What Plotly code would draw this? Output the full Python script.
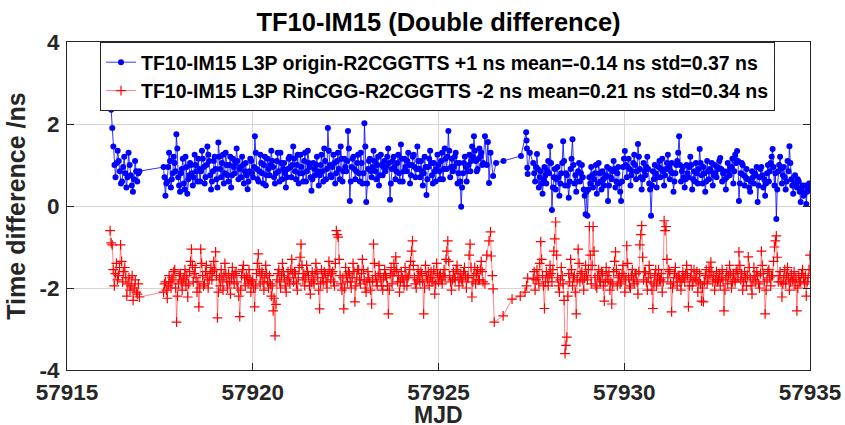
import numpy as np
import plotly.graph_objects as go

# ---- time spans of the regularly sampled segments (MJD) ----
seg_a_span = [57916.16, 57916.95]
seg_b_span = [57917.60, 57926.20]
seg_d_span = [57927.55, 57935.00]

# ---- blue: origin-R2CGGTTS +1 ns ----
blue_a = [2.60, 2.35, 1.90, 1.45, 1.00, 0.70, 1.05, 1.35, 1.10, 0.85, 0.55, 0.60, 0.95, 1.20, 0.80,
          0.45, 0.70, 1.30, 1.00, 0.75, 0.50, 0.35, 0.65, 1.10, 0.85, 0.60, 0.80, 0.85]
blue_b = [
    0.95, 0.70, 0.25, 0.55, 0.60, 0.95, 1.30, 1.10, 0.45, 0.65, 0.80, 1.20, 1.05, 0.85, 1.75, 1.40, 0.70, 0.50, 0.35, 0.80,
    0.90, 1.15, 0.55, 0.40, 1.20, 0.95, 0.30, 0.65, 0.75, 1.05, 1.00, 0.80, 0.50, 0.70, 1.25, 1.00, 0.85, 0.60, 1.15, 0.90,
    0.60, 0.85, 1.35, 1.15, 0.95, 0.55, 0.70, 1.00, 1.45, 1.25, 1.10, 0.75, 0.40, 0.60, 0.85, 1.10, 1.20, 0.90, 0.65, 0.45,
    1.55, 1.20, 0.90, 0.70, 1.05, 1.25, 0.55, 0.80, 1.30, 1.00, 0.75, 0.60, 1.00, 1.20, 0.45, 0.75, 1.15, 0.95, 0.80, 1.05,
    1.40, 1.10, 0.65, 0.90, 0.95, 0.70, 1.20, 1.00, 0.55, 0.85, 1.05, 0.75, 0.41, 0.60, 0.85, 1.15, 1.10, 0.80, 0.70, 0.95,
    1.70, 1.30, 0.90, 0.65, 0.60, 0.85, 1.25, 1.05, 0.80, 0.55, 1.00, 1.20, 0.50, 0.75, 1.15, 0.90, 0.75, 1.00, 1.35, 1.10,
    0.95, 0.70, 0.55, 0.80, 1.10, 1.30, 0.85, 0.60, 1.30, 1.05, 0.65, 0.90, 1.05, 0.80, 0.45, 0.70, 0.90, 1.15, 1.20, 0.95,
    0.70, 1.00, 1.45, 1.15, 0.85, 0.65, 1.00, 1.25, 0.55, 0.80, 1.25, 0.95, 0.80, 0.60, 1.10, 1.30, 0.60, 0.85, 1.35, 1.05,
    0.95, 0.70, 0.37, 0.65, 1.05, 0.90, 0.75, 1.00, 1.20, 0.85, 0.50, 0.75, 1.00, 1.25, 0.85, 0.60, 1.40, 1.10, 0.65, 0.90,
    1.90, 1.35, 1.00, 0.75, 0.70, 0.95, 1.25, 1.05, 0.55, 0.80, 1.10, 1.30, 0.90, 0.65, 1.45, 1.15, 0.60, 0.85, 1.15, 0.95,
    0.85, 1.10, 1.83, 1.40, 0.12, 0.60, 0.95, 1.15, 1.20, 0.90, 0.65, 0.85, 1.05, 1.25, 0.80, 0.60, 1.30, 1.05, 0.55, 0.80,
    2.02, 1.45, 0.10, 0.55, 0.90, 1.10, 1.15, 0.85, 0.70, 0.95, 1.35, 1.10, 0.85, 0.65, 1.00, 1.20, 0.50, 0.75, 1.25, 1.00,
    0.75, 0.95, 1.10, 0.85, 0.95, 1.20, 1.40, 1.05, 0.15, 0.55, 0.90, 1.10, 1.20, 0.95, 0.65, 0.85, 1.05, 1.25, 0.80, 0.60,
    1.50, 1.15, 0.60, 0.85, 1.15, 0.95, 0.85, 1.10, 1.30, 1.00, 0.55, 0.75, 1.00, 1.20, 1.25, 0.95, 0.70, 0.90, 1.45, 1.10,
    0.90, 0.70, 1.10, 0.85, 0.50, 0.80, 1.20, 0.95, 0.27, 0.65, 0.95, 1.15, 1.35, 1.05, 0.75, 0.55, 1.05, 0.85, 0.60, 0.90,
    1.25, 1.00, 0.85, 0.65, 1.10, 1.30, 0.65, 0.90, 1.40, 1.15, 0.90, 1.20, 1.83, 1.35, 0.70, 0.95, 1.15, 0.85, 0.95, 1.20,
    1.30, 1.05, 0.55, 0.80, 1.05, 0.60, -0.02, 0.45, 0.80, 1.05, 1.20, 0.95, 0.60, 0.85, 1.00, 1.25, 0.85, 1.10, 1.45, 1.20,
    1.70, 1.35, 1.10, 0.85, 0.90, 1.15, 1.40, 1.20, 1.30, 1.00, 1.05,
]
blue_c_mjd = [57926.25, 57926.30, 57926.33, 57926.36, 57926.40, 57926.47, 57926.55, 57926.75,
              57927.22, 57927.36, 57927.37, 57927.38, 57927.39, 57927.40, 57927.46]
blue_c = [1.70, 1.00, 1.56, 0.56, 1.30, 0.73, 1.05, 1.10, 1.22, 1.80, 1.60, 1.40, 0.93, 0.78, 1.30]
blue_d = [
    1.05, 0.80, 0.60, 0.95, 1.27, 0.90, 0.45, 0.70, 0.85, 0.55, 0.30, 0.65, 0.95, 0.75, 0.55, 0.85, 1.10, 0.80, 1.46, 1.05,
    -0.10, 0.45, 0.70, 0.90, 0.40, 0.65, 0.95, 0.70, 0.25, 0.55, 0.80, 1.05, 1.58, 1.10, 0.50, 0.80, 0.75, 0.50, 0.20, 0.60,
    0.90, 1.15, 1.63, 1.00, 0.55, 0.75, 0.35, 0.60, 0.85, 1.05, 0.60, 0.80, 1.00, 0.70, 0.40, 0.25, -0.20, 0.35, -0.24, 0.40,
    0.70, 0.55, 0.95, 0.75, 0.45, 0.65, 0.80, 1.00, 0.30, 0.55, 1.05, 0.80, 0.60, 0.40, 0.85, 0.65, 0.50, 0.70, 0.75, 0.95,
    0.12, 0.50, 0.90, 0.70, 0.65, 0.85, 1.10, 0.90, 0.45, 0.60, 0.80, 0.95, 0.55, 0.35, 0.12, 0.60, 0.95, 1.15, 1.34, 1.00,
    0.70, 0.95, 1.15, 0.90, 0.50, 0.75, 0.85, 1.05, 1.25, 1.00, 0.65, 0.85, 1.51, 1.20, 0.90, 0.70, 0.40, 0.65, 1.05, 0.85,
    0.75, 0.95, 1.20, 0.90, 0.55, 0.40, -0.24, 0.50, 0.85, 0.65, 1.00, 0.80, 0.45, 0.70, 0.95, 1.10, 0.70, 0.90, 1.15, 0.85,
    0.50, 0.75, 0.90, 1.05, 1.25, 0.95, 0.65, 0.85, 1.05, 0.80, 0.35, 0.60, 0.80, 1.00, 1.10, 1.30, 1.70, 1.00, 0.60, 0.85,
    0.95, 0.70, 0.45, 0.65, 1.00, 0.80, 0.70, 0.95, 1.20, 1.00, 0.40, 0.65, 0.85, 0.60, 1.05, 0.80, 0.55, 0.90, 1.39, 1.05,
    0.75, 0.55, 0.95, 0.80, 0.35, 0.60, 1.10, 0.85, 0.65, 0.90, 0.85, 1.05, 0.50, 0.75, 1.00, 0.80, 0.70, 0.95, 0.90, 1.10,
    1.17, 0.90, 0.60, 0.80, 0.85, 0.65, 0.40, 0.70, 1.05, 0.85, 0.75, 0.95, 0.95, 1.15, 0.55, 0.85, 1.25, 1.05, 1.34, 1.10,
    0.12, 0.55, 0.80, 1.05, 1.00, 0.75, 0.50, 0.70, 0.90, 0.65, 0.65, 0.45, 0.35, 0.60, 0.85, 0.70, 0.55, 0.80, 0.75, 0.95,
    0.10, 0.50, 0.70, 0.90, 0.95, 0.75, 0.45, 0.65, 0.25, 0.55, 0.80, 1.00, 0.60, 0.85, 1.05, 1.20, 1.39, 0.95, 0.50, 0.80,
    -0.32, 0.40, 0.85, 1.00, 1.20, 0.90, 0.55, 0.75, 0.95, 0.70, 0.40, 0.60, 1.10, 0.85, 1.46, 1.05, 0.65, 0.50, 0.30, 0.55,
    0.75, 0.55, 0.45, 0.65, 0.60, 0.35, 0.10, 0.40, 0.50, 0.25, 0.30, 0.50, 0.05, 0.35, 0.40, 0.55, 0.46,
]

# ---- red: RinCGG-R2CGGTTS -2 ns ----
red_a = [-0.60, -0.90, -0.95, -1.55, -1.95, -1.65, -1.40, -1.80, -1.70, -1.50, -0.95, -1.35, -1.85, -1.60, -1.50,
         -1.75, -2.20, -1.90, -1.75, -2.05, -1.95, -1.70, -2.30, -2.00, -1.80, -2.10, -2.15, -1.90, -2.22]
red_b = [
    -2.10, -1.90, -1.85, -2.05, -2.25, -1.95, -1.70, -1.85, -2.00, -1.75, -1.80, -1.60, -1.55, -2.00, -2.83, -2.20, -1.90, -1.70, -1.65, -1.85,
    -2.05, -1.80, -1.75, -1.55, -1.95, -1.70, -2.22, -1.90, -1.60, -1.35, -1.05, -1.45, -1.85, -1.65, -1.50, -1.75, -2.10, -1.85, -2.46, -2.00,
    -1.05, -1.40, -1.70, -1.95, -1.90, -1.60, -1.45, -1.75, -2.00, -1.80, -1.65, -1.50, -1.80, -1.60, -1.35, -1.55, -1.12, -1.70, -2.73, -2.10,
    -1.75, -1.95, -1.55, -1.80, -2.05, -1.70, -1.40, -1.65, -1.85, -2.00, -1.65, -1.85, -2.15, -1.75, -1.50, -1.70, -1.90, -1.65, -1.60, -1.85,
    -2.00, -2.20, -2.70, -2.05, -1.70, -1.55, -1.45, -1.75, -1.95, -1.70, -1.75, -1.90, -1.55, -1.80, -2.10, -1.85, -1.80, -2.00, -2.46, -1.95,
    -1.65, -1.40, -1.17, -1.55, -1.90, -1.70, -1.60, -1.85, -2.05, -1.75, -1.45, -1.65, -1.85, -2.00, -1.70, -1.90, -2.20, -1.95, -2.56, -2.25,
    -3.17, -2.40, -1.80, -1.65, -1.55, -1.85, -2.00, -1.70, -1.40, -1.60, -1.75, -1.95, -2.10, -1.80, -1.60, -1.75, -1.90, -1.55, -1.30, -1.65,
    -1.85, -1.60, -1.65, -1.90, -2.05, -1.75, -1.50, -1.25, -0.93, -1.45, -1.80, -1.65, -1.95, -1.75, -1.45, -1.60, -1.70, -1.95, -2.15, -1.85,
    -1.60, -1.80, -1.90, -1.65, -1.40, -1.60, -1.75, -2.05, -2.51, -1.90, -1.55, -1.75, -1.85, -1.60, -1.65, -1.85, -2.00, -1.70, -1.35, -1.55,
    -1.80, -1.65, -1.60, -1.85, -1.95, -1.40, -0.60, -0.70, -0.76, -1.30, -1.70, -1.90, -2.05, -1.75, -2.51, -2.00, -1.50, -1.70, -1.85, -1.60,
    -1.65, -1.85, -2.00, -1.75, -1.40, -1.60, -2.34, -1.95, -1.75, -1.55, -1.55, -1.80, -1.90, -1.65, -1.30, -1.55, -1.80, -2.00, -2.10, -1.85,
    -1.60, -1.75, -1.85, -2.05, -2.39, -1.80, -0.93, -1.40, -1.70, -1.85, -1.95, -1.70, -1.45, -1.65, -1.80, -1.95, -2.05, -1.75, -1.55, -1.70,
    -1.75, -1.95, -2.63, -2.05, -1.65, -1.50, -1.90, -1.70, -1.40, -1.60, -1.24, -1.55, -1.85, -1.70, -2.10, -1.85, -1.60, -1.75, -1.80, -1.95,
    -1.50, -1.70, -1.95, -1.75, -1.70, -1.55, -1.35, -1.10, -0.85, -1.45, -1.75, -1.90, -2.00, -1.80, -1.55, -1.70, -1.85, -1.60, -1.65, -1.85,
    -2.63, -2.00, -1.45, -1.70, -1.80, -1.60, -1.95, -1.75, -1.60, -1.85, -1.75, -1.55, -2.15, -1.90, -1.40, -1.65, -1.85, -1.70, -1.65, -1.80,
    -1.90, -1.70, -1.55, -1.75, -1.30, -1.10, -0.85, -1.35, -1.70, -1.85, -2.05, -1.80, -1.60, -1.75, -1.80, -1.55, -1.45, -1.65, -1.95, -1.75,
    -1.65, -1.80, -1.85, -1.60, -1.50, -1.70, -2.00, -1.75, -1.75, -1.20, -0.93, -1.50, -2.22, -1.85, -1.70, -1.50, -1.90, -1.65, -1.55, -1.80,
    -1.80, -1.55, -1.35, -1.60, -1.85,
]
red_c_mjd = [57926.25, 57926.30, 57926.36, 57926.40, 57926.42, 57926.45, 57926.47, 57926.50,
             57926.74, 57926.98, 57927.20, 57927.33, 57927.37, 57927.40]
red_c = [-1.90, -1.20, -0.85, -0.63, -1.22, -1.70, -2.02, -2.83, -2.68, -2.27, -2.20, -2.10, -1.95, -1.76]
red_d = [
    -1.78, -1.60, -2.05, -1.80, -1.55, -1.75, -1.90, -1.40, -0.87, -1.30, -1.70, -1.95, -2.50, -1.85, -1.60, -1.75, -1.95, -1.70, -1.45, -1.65,
    -1.85, -1.55, -1.10, -0.80, -0.39, -1.20, -1.75, -1.95, -2.10, -1.80, -1.50, -1.70, -1.90, -2.30, -3.60, -3.40, -3.20, -2.20, -1.65, -1.85,
    -1.30, -1.55, -1.95, -1.75, -1.70, -2.10, -2.63, -1.80, -1.05, -1.40, -1.85, -1.65, -1.60, -1.80, -2.05, -1.75, -1.45, -1.70, -1.80, -1.55,
    -0.50, -1.20, -1.90, -1.45, -0.50, -1.10, -1.75, -1.95, -2.00, -1.70, -1.55, -1.80, -1.85, -1.60, -1.65, -1.95, -2.32, -1.85, -1.50, -1.70,
    -1.80, -1.60, -2.05, -1.85, -2.39, -1.90, -1.60, -1.35, -1.12, -1.55, -1.95, -1.75, -1.70, -1.90, -1.85, -1.65, -1.45, -1.70, -2.10, -1.80,
    -0.97, -1.40, -1.75, -1.95, -2.00, -1.70, -1.55, -1.80, -1.90, -1.65, -1.65, -1.85, -2.15, -1.60, -0.95, -0.70, -0.48, -1.25, -1.80, -1.60,
    -1.60, -1.85, -2.05, -1.75, -1.45, -1.65, -1.85, -2.05, -2.50, -1.90, -1.70, -1.55, -1.95, -1.75, -1.55, -1.80, -1.80, -1.65, -2.10, -1.85,
    -0.36, -0.60, -0.50, -1.30, -1.75, -1.55, -1.60, -1.90, -2.58, -2.00, -1.85, -1.65, -1.50, -1.75, -1.95, -1.70, -1.70, -1.85, -2.05, -1.80,
    -1.60, -1.75, -1.85, -1.65, -1.45, -1.70, -2.46, -1.95, -1.75, -1.55, -1.95, -1.80, -1.55, -1.75, -1.80, -1.60, -2.10, -1.85, -1.65, -1.90,
    -2.32, -2.00, -2.34, -1.85, -1.70, -1.55, -1.90, -1.75, -1.50, -1.70, -1.37, -1.60, -1.85, -1.70, -2.05, -1.80, -1.60, -1.85, -1.80, -1.65,
    -1.95, -1.75, -1.55, -1.80, -2.56, -2.05, -1.75, -1.60, -1.90, -1.70, -1.45, -1.65, -2.00, -1.85, -1.65, -1.80, -1.85, -1.60, -1.55, -1.75,
    -1.12, -1.45, -1.80, -1.65, -2.05, -1.85, -1.60, -1.75, -1.95, -1.70, -1.24, -1.50, -1.75, -1.95, -2.15, -1.80, -1.50, -1.70, -1.85, -1.60,
    -1.70, -1.90, -2.00, -1.65, -1.10, -1.45, -1.65, -1.85, -2.63, -2.05, -1.80, -1.60, -1.55, -1.75, -1.95, -1.70, -1.70, -1.35, -1.00, -0.85,
    -0.73, -1.25, -1.85, -1.70, -1.60, -1.85, -2.22, -1.90, -1.75, -1.55, -1.90, -1.70, -1.50, -1.75, -2.05, -1.85, -1.65, -1.80, -1.80, -1.60,
    -1.95, -1.75, -2.56, -2.00, -1.70, -1.85, -1.85, -1.65, -1.55, -1.75, -1.90, -1.70, -2.20, -1.85, -1.75, -1.55, -1.20,
]

x_ticks = [57915, 57920, 57925, 57930, 57935]
y_ticks = [-4, -2, 0, 2, 4]
y_tick_text = ["-4", "-2", "0", "2", "4"]

name_blue = "TF10-IM15 L3P origin-R2CGGTTS +1 ns mean=-0.14 ns std=0.37 ns"
name_red = "TF10-IM15 L3P RinCGG-R2CGGTTS -2 ns mean=0.21 ns std=0.34 ns"


def build(a, b, c_x, c_y, d):
    x = np.concatenate([
        np.linspace(seg_a_span[0], seg_a_span[1], len(a)),
        np.linspace(seg_b_span[0], seg_b_span[1], len(b)),
        np.array(c_x),
        np.linspace(seg_d_span[0], seg_d_span[1], len(d)),
    ])
    y = np.concatenate([a, b, c_y, d])
    return x, y


bx, by = build(blue_a, blue_b, blue_c_mjd, blue_c, blue_d)
rx, ry = build(red_a, red_b, red_c_mjd, red_c, red_d)

FONT = "Liberation Sans, Arial, Helvetica, sans-serif"

fig = go.Figure()
fig.add_trace(go.Scatter(
    x=bx, y=by, mode="lines+markers", name=name_blue,
    line=dict(color="#0000ff", width=0.8),
    marker=dict(symbol="circle", size=6, color="#0000ff"),
))
fig.add_trace(go.Scatter(
    x=rx, y=ry, mode="lines+markers", name=name_red,
    line=dict(color="rgba(255,0,0,0.6)", width=0.8),
    marker=dict(symbol="cross-thin", size=7, color="#ff0000",
                line=dict(color="#ff0000", width=1.2)),
))

axis_common = dict(
    showline=True, linecolor="#262626", linewidth=1, mirror="ticks",
    ticks="inside", ticklen=7, tickwidth=1, tickcolor="#262626",
    showgrid=True, gridcolor="#d6d6d6", gridwidth=1, zeroline=False,
    tickfont=dict(family=FONT, size=22.5, color="#262626", weight="bold"),
    automargin=False,
)

fig.update_layout(
    width=845, height=425,
    margin=dict(l=67, r=35, t=42, b=55),
    paper_bgcolor="white", plot_bgcolor="white",
    title=dict(text="TF10-IM15 (Double difference)", x=0.5, xref="paper",
               y=1 - 22.5 / 425, yref="container", xanchor="center", yanchor="middle",
               font=dict(family=FONT, size=25.5, color="black", weight="bold")),
    xaxis=dict(range=[57915, 57935], tickvals=x_ticks, ticktext=[str(v) for v in x_ticks],
               ticklabelstandoff=2, **axis_common),
    yaxis=dict(range=[-4, 4], tickvals=y_ticks, ticktext=y_tick_text,
               title=dict(text="Time difference /ns", standoff=6,
                          font=dict(family=FONT, size=25, color="#262626", weight="bold")),
               ticklabelstandoff=2, **axis_common),
    legend=dict(x=(100 - 67) / 743, y=1, xanchor="left", yanchor="top",
                bgcolor="white", bordercolor="#262626", borderwidth=1,
                font=dict(family=FONT, size=19.5, color="black", weight="bold"),
                itemwidth=30, tracegroupgap=0),
    showlegend=True,
    annotations=[dict(text="MJD", x=0.5, xref="paper", y=-45 / 328, yref="paper",
                      xanchor="center", yanchor="middle", showarrow=False,
                      font=dict(family=FONT, size=23, color="#262626", weight="bold"))],
)

fig.write_html("out.html")
